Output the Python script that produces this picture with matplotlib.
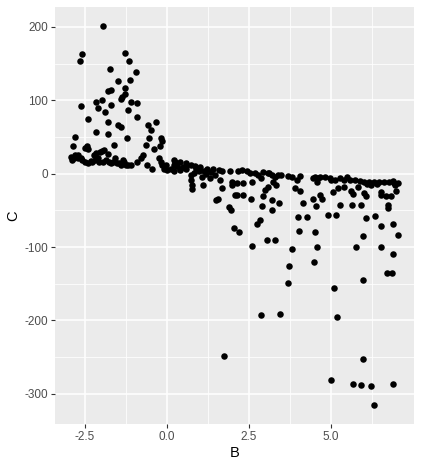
import matplotlib.pyplot as plt

# values (B on x, C on y)
left_upper_b = [-1.93, -2.59, -2.63, -2.61, -2.79, -2.85, -2.42, -2.39, -2.48, -2.38,
                -2.16, -2.10, -1.97, -2.16, -1.88, -1.80, -1.78, -1.78, -1.70, -1.72,
                -1.70, -1.60, -1.48, -1.48, -1.39, -1.39, -1.35, -1.28]
left_upper_c = [201, 163, 154, 92, 50, 38, 38, 34, 35, 75,
                98, 90, 101, 57, 84, 54, 70, 112, 114, 142,
                94, 39, 126, 66, 64, 102, 105, 109]

left_mid_b = [-1.27, -1.14, -0.94, -1.11, -1.27, -1.07, -0.89, -1.17, -0.91, -1.21,
              -0.57, -0.31, -0.46, -0.54, -0.18, -0.13, -0.20, -0.64, -0.38, -0.71,
              -0.77, -1.34, -1.19, -1.09, -0.89, -0.59, -0.43, -0.23, -0.18, -0.13,
              -0.08, 0.02, 0.12, 0.22, 0.27, 0.32, 0.40]
left_mid_c = [164, 153, 139, 127, 116, 97, 96, 87, 77, 48,
              66, 71, 60, 48, 48, 44, 38, 39, 33, 26,
              21, 19, 12, 12, 16, 12, 7, 21, 16, 12,
              7, 5, 7, 12, 16, 10, 7]

left_band_b = [-2.91, -2.89, -2.81, -2.79, -2.71, -2.69, -2.61, -2.57, -2.48, -2.38,
               -2.30, -2.26, -2.20, -2.18, -2.15, -2.10, -2.05, -2.02, -1.97, -1.95,
               -1.90, -1.85, -1.80, -1.75, -1.70, -1.62, -1.56, -1.52, -1.45, -1.39,
               -1.30, -1.25]
left_band_c = [23, 18, 21, 25, 22, 25, 21, 18, 16, 15,
               17, 16, 25, 19, 28, 22, 16, 29, 31, 16,
               32, 19, 27, 16, 14, 16, 21, 14, 14, 12,
               16, 12]

mid_b = [-0.03, 0.22, 0.27, 0.22, 0.42, 0.58, 0.73, 0.88, 1.03, 0.73,
         0.75, 0.78, 0.78, 1.13, 1.23, 1.43, 1.59, 1.69, 1.94, 1.08,
         1.33, 1.48, 1.64, 1.11, 1.99, 1.99, 1.69, 2.14, 1.52, 1.56,
         1.89, 1.96, 2.06, 2.22, 0.40, 0.58, 0.90, 0.60, 0.50, 1.00,
         0.85, 1.20, 1.35]
mid_c = [12, 19, 12, 3, 5, 10, 12, 10, 9, -2,
         -9, -15, -21, 4, 7, 7, 5, 3, 3, -4,
         -6, -2, -9, -15, -11, -15, -20, -29, -36, -34,
         -45, -49, -74, -79, 16, 14, 6, 6, 9, 4,
         1, 0, 2]

right_b = [2.19, 2.29, 2.44, 2.54, 2.70, 2.80, 2.14, 2.34, 2.59, 2.09,
           2.34, 2.58, 3.10, 3.20, 3.30, 3.40, 3.50, 3.25, 3.32, 3.10,
           3.00, 2.95, 3.20, 3.43, 3.20, 2.92, 3.71, 3.81, 3.96, 4.06,
           3.91, 4.06, 4.16, 3.99, 4.29, 4.03, 2.85, 2.75, 2.60, 3.07,
           3.30, 3.81, 4.46, 2.95, 2.88, 3.13]
right_c = [3, 5, 4, 1, 0.5, -2, -13, -13, -12, -29,
           -29, -34, 0.5, -2, -4, -2, -2, -11, -15, -18,
           -22, -31, -36, -40, -49, -44, -3, -4, -9, -3,
           -20, -23, -40, -59, -59, -78, -63, -68, -99, -91,
           -91, -102, -6, 2, -6, 0.5]

far_b = [4.51, 4.57, 4.67, 4.82, 4.97, 5.12, 5.27, 5.42, 5.58, 5.73,
         5.88, 6.03, 6.18, 6.33, 6.48, 6.64, 6.79, 6.94, 7.04, 5.07,
         5.22, 5.42, 5.63, 5.68, 5.83, 6.03, 6.08, 6.23, 6.54, 6.54,
         6.69, 6.84, 6.74, 6.74, 7.00, 4.46, 4.67, 4.75, 4.55, 5.27,
         5.66, 5.93, 4.92, 5.17, 6.08, 6.36, 6.54, 6.89, 4.51, 6.00,
         7.05, 4.57, 5.78, 6.54, 4.60, 5.00, 5.50, 6.10, 6.40, 6.90,
         6.95]
far_c = [-4, -11, -4, -5, -6, -8, -6, -8, -8, -9,
         -9.5, -11, -11, -11, -11, -12, -12, -13, -13, -24.5,
         -20, -18.6, -23, -27.7, -17.7, -26.8, -31, -15.4, -24.5, -29,
         -31, -31, -42.7, -47, -23, -34, -29, -35, -44, -43,
         -43, -43, -57, -57, -61, -58, -71, -68, -79, -85,
         -83, -100, -100, -100, -6, -9, -5, -14, -14, -10,
         -16]

low_b = [6.89, 3.72, 4.49, 3.71, 6.72, 6.86, 5.98, 5.09, 2.89, 3.47,
         5.20, 1.75, 5.99, 5.02, 5.69, 5.93, 6.23, 6.90, 6.31]
low_c = [-110, -126, -120, -149, -136, -135, -145, -156, -192, -191,
         -195, -248, -252, -281, -286, -288, -289, -286, -315]

x_ticks = [-2.5, 0.0, 2.5, 5.0]
x_minor = [-1.25, 1.25, 3.75, 6.25]
y_ticks = [-300, -200, -100, 0, 100, 200]
y_minor = [-250, -150, -50, 50, 150]

b_vals = left_upper_b + left_mid_b + left_band_b + mid_b + right_b + far_b + low_b
c_vals = left_upper_c + left_mid_c + left_band_c + mid_c + right_c + far_c + low_c

plt.rcParams['font.family'] = ['Liberation Sans', 'DejaVu Sans']

fig = plt.figure(figsize=(4.22, 4.66), dpi=100)
ax = fig.add_axes([55 / 422, 42 / 466, 359 / 422, 417 / 466])
ax.set_facecolor('#EBEBEB')

ax.scatter(b_vals, c_vals, s=22, color='black', linewidths=0, zorder=3)

ax.set_xlim(-3.40, 7.54)
ax.set_ylim(-341, 227)
ax.set_xticks(x_ticks)
ax.set_xticklabels([f"{v:.1f}" for v in x_ticks])
ax.set_xticks(x_minor, minor=True)
ax.set_yticks(y_ticks)
ax.set_yticklabels([str(v) for v in y_ticks])
ax.set_yticks(y_minor, minor=True)

ax.grid(which='major', color='white', linewidth=1.1, zorder=0)
ax.grid(which='minor', color='white', linewidth=0.55, zorder=0)
ax.set_axisbelow(True)

for s in ax.spines.values():
    s.set_visible(False)

ax.tick_params(which='major', length=3, width=0.8, color='#333333',
               labelsize=8.5, labelcolor='#4D4D4D', pad=2)
ax.tick_params(which='minor', length=0)

ax.set_xlabel("B", fontsize=10.5, color='black', labelpad=2)
ax.set_ylabel("C", fontsize=10.5, color='black', labelpad=3)

fig.savefig("out.png", dpi=100)
